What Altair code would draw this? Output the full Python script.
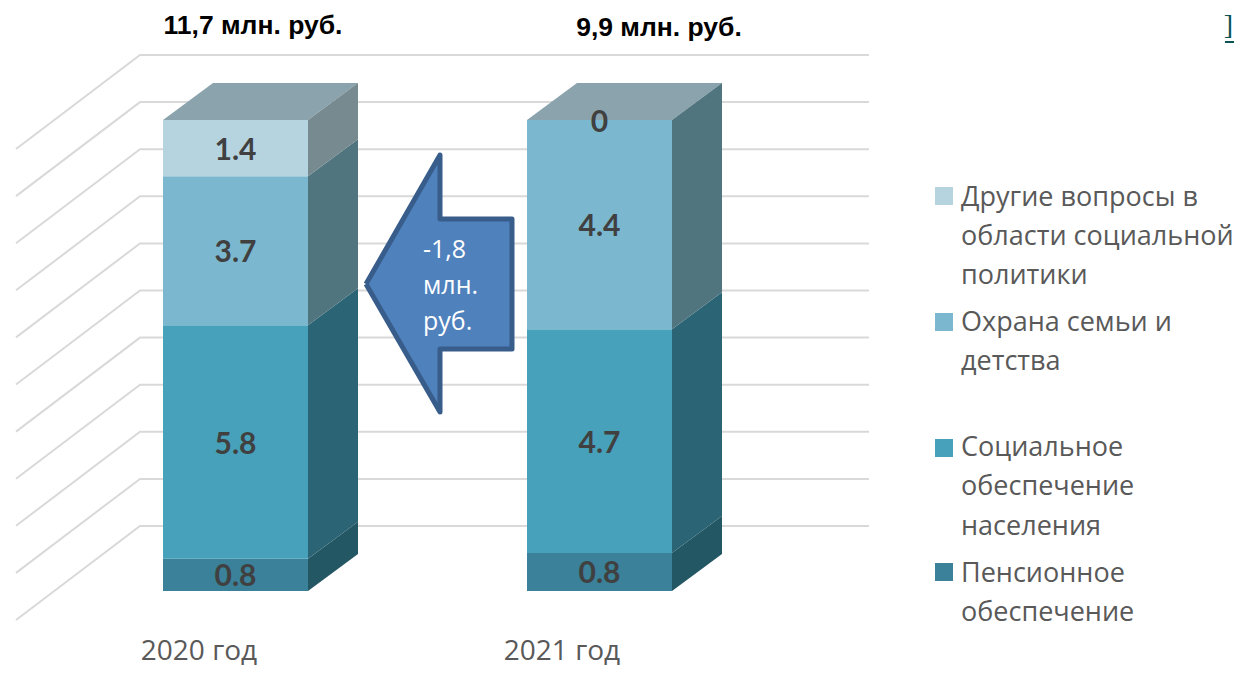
import altair as alt
import pandas as pd

# ---- values
years = ["2020 год", "2021 год"]
totals = ["11,7 млн. руб.", "9,9 млн. руб."]
series = ["Пенсионное обеспечение", "Социальное обеспечение населения",
          "Охрана семьи и детства", "Другие вопросы в области социальной политики"]
v2020 = [0.8, 5.8, 3.7, 1.4]
v2021 = [0.8, 4.7, 4.4, 0]
front_colors = ["#3a8199", "#47a1ba", "#7bb8cf", "#b5d4e0"]
side_colors = ["#245764", "#2b6474", "#50757f", "#768a90"]
top_color = "#8aa3ac"
legend_lines = [["Другие вопросы в", "области социальной", "политики"],
                ["Охрана семьи и", "детства"],
                ["Социальное", "обеспечение", "населения"],
                ["Пенсионное", "обеспечение"]]
legend_colors = ["#b5d4e0", "#7bb8cf", "#47a1ba", "#3a8199"]
grid_levels = list(range(0, 101, 10))

W, H = 1227, 659
PX_PER_PCT = 4.71
Y0 = 591 - 8                      # plot y of the 0 % level of the front plane
DX, DY = 50, 37 / PX_PER_PCT      # depth of a bar
WALL_DY = 65 / PX_PER_PCT         # back wall lift
bar_left = [155, 519]
BAR_W = 145

x_s = alt.Scale(domain=[0, W], range=[0, W], nice=False, zero=False)
y_s = alt.Scale(domain=[Y0 / PX_PER_PCT, (Y0 - H) / PX_PER_PCT], range=[0, H], nice=False, zero=False)
X = alt.X("x:Q", scale=x_s, axis=None)
Y = alt.Y("y:Q", scale=y_s, axis=None)
Y2 = alt.Y2("y2:Q")
PX = alt.X("x:Q", scale=None, axis=None)
PY = alt.Y("y:Q", scale=None, axis=None)

# ---- grid (back wall and side wall)
grid = []
for lv in grid_levels:
    py = lv + WALL_DY
    grid += [dict(l=lv, o=0, x=8, y=py - 94 / PX_PER_PCT),
             dict(l=lv, o=1, x=132, y=py),
             dict(l=lv, o=2, x=861, y=py)]
grid_layer = alt.Chart(pd.DataFrame(grid)).mark_line(color="#d9d9d9", strokeWidth=2).encode(
    x=X, y=Y, detail="l:N", order="o:Q")

layers = [grid_layer]

# ---- bars
for left, vals in zip(bar_left, [v2020, v2021]):
    total = sum(vals)
    right = left + BAR_W
    top = pd.DataFrame([
        dict(x=left, y=100, y2=100), dict(x=left + DX, y=100 + DY, y2=100),
        dict(x=right, y=100 + DY, y2=100), dict(x=right + DX, y=100 + DY, y2=100 + DY)])
    layers.append(alt.Chart(top).mark_area(color=top_color, interpolate="linear").encode(x=X, y=Y, y2=Y2))
    low = 0
    for v, fc, sc in zip(vals, front_colors, side_colors):
        high = low + v / total * 100
        if v > 0:
            side = pd.DataFrame([dict(x=right, y=high, y2=low),
                                 dict(x=right + DX, y=high + DY, y2=low + DY)])
            layers.append(alt.Chart(side).mark_area(color=sc, interpolate="linear").encode(x=X, y=Y, y2=Y2))
            front = pd.DataFrame([dict(x=left, x2=right, y=high, y2=low)])
            layers.append(alt.Chart(front).mark_rect(color=fc).encode(x=X, x2="x2:Q", y=Y, y2=Y2))
        low = high

# ---- value labels
labels = []
for left, vals in zip(bar_left, [v2020, v2021]):
    total = sum(vals)
    low = 0
    for v in vals:
        high = low + v / total * 100
        labels.append(dict(x=left + BAR_W / 2, y=(low + high) / 2, t=str(v)))
        low = high
layers.append(alt.Chart(pd.DataFrame(labels)).mark_text(
    font="Lato", fontSize=30, fontWeight="bold", color="#404040", align="center", baseline="middle", dy=2.5
).encode(x=X, y=Y, text="t:N"))

# ---- arrow
arrow_x = [358, 432, 432, 504, 504, 432, 432, 358]
arrow_top = [276, 147, 211, 211, 341, 341, 404, 276]
ar = pd.DataFrame(dict(x=arrow_x, y=[(Y0 - p) / PX_PER_PCT for p in arrow_top], o=range(8)))
fill = pd.DataFrame([
    dict(x=358, y=(Y0 - 276) / PX_PER_PCT, y2=(Y0 - 276) / PX_PER_PCT),
    dict(x=431.99, y=(Y0 - 147) / PX_PER_PCT, y2=(Y0 - 404) / PX_PER_PCT),
    dict(x=432, y=(Y0 - 211) / PX_PER_PCT, y2=(Y0 - 341) / PX_PER_PCT),
    dict(x=504, y=(Y0 - 211) / PX_PER_PCT, y2=(Y0 - 341) / PX_PER_PCT)])
layers.append(alt.Chart(fill).mark_area(color="#4f81bd", interpolate="linear").encode(x=X, y=Y, y2=Y2))
layers.append(alt.Chart(ar).mark_line(color="#385d8a", strokeWidth=5, strokeJoin="round").encode(
    x=X, y=Y, order="o:Q"))


def text_layer(rows, **kw):
    return alt.Chart(pd.DataFrame(rows)).mark_text(baseline="middle", **kw).encode(x=PX, y=PY, text="t:N")


layers.append(text_layer(
    [dict(x=415, y=250 - 8, t="-1,8"), dict(x=415, y=286 - 8, t="млн."), dict(x=415, y=322 - 8, t="руб.")],
    font="Open Sans", fontSize=25, color="#ffffff", align="left"))

# ---- category labels and totals
layers.append(text_layer(
    [dict(x=191, y=652 - 8, t=years[0]), dict(x=554, y=652 - 8, t=years[1])],
    font="Open Sans", fontSize=28, color="#595959", align="center"))
layers.append(text_layer(
    [dict(x=245, y=26 - 8, t=totals[0]), dict(x=651, y=28 - 8, t=totals[1])],
    font="Liberation Sans", fontSize=26.5, fontWeight="bold", color="#000000", align="center"))

# ---- legend
leg_sq = [196, 322, 448, 572]
leg_ys = [[198, 237, 276], [323, 362], [448, 487, 527], [574, 613]]
sq = pd.DataFrame([dict(x=944 - 8, y=p - 8, c=c) for p, c in zip(leg_sq, legend_colors)])
layers.append(alt.Chart(sq).mark_square(size=324, opacity=1).encode(
    x=PX, y=PY, color=alt.Color("c:N", scale=None)))
rows = []
for ls, ys in zip(legend_lines, leg_ys):
    for t, p in zip(ls, ys):
        rows.append(dict(x=961 - 8, y=p - 8, t=t))
layers.append(text_layer(rows, font="Open Sans", fontSize=27, color="#595959", align="left"))

# ---- clipped link at the page edge
layers.append(text_layer([dict(x=1225, y=18, t="]")], font="Liberation Serif", fontSize=28,
                         color="#0b5355", align="right"))
layers.append(alt.Chart(pd.DataFrame([dict(x=1217, x2=1226, y=34)])).mark_rule(color="#0b5355", strokeWidth=2).encode(
    x=PX, x2="x2:Q", y=PY))

chart = alt.layer(*layers).resolve_scale(color="independent").properties(
    width=W, height=H, padding=0, autosize=alt.AutoSizeParams(type="none")
).configure_view(stroke=None)

chart.save("out.html", embed_options={"renderer": "svg", "actions": False})
